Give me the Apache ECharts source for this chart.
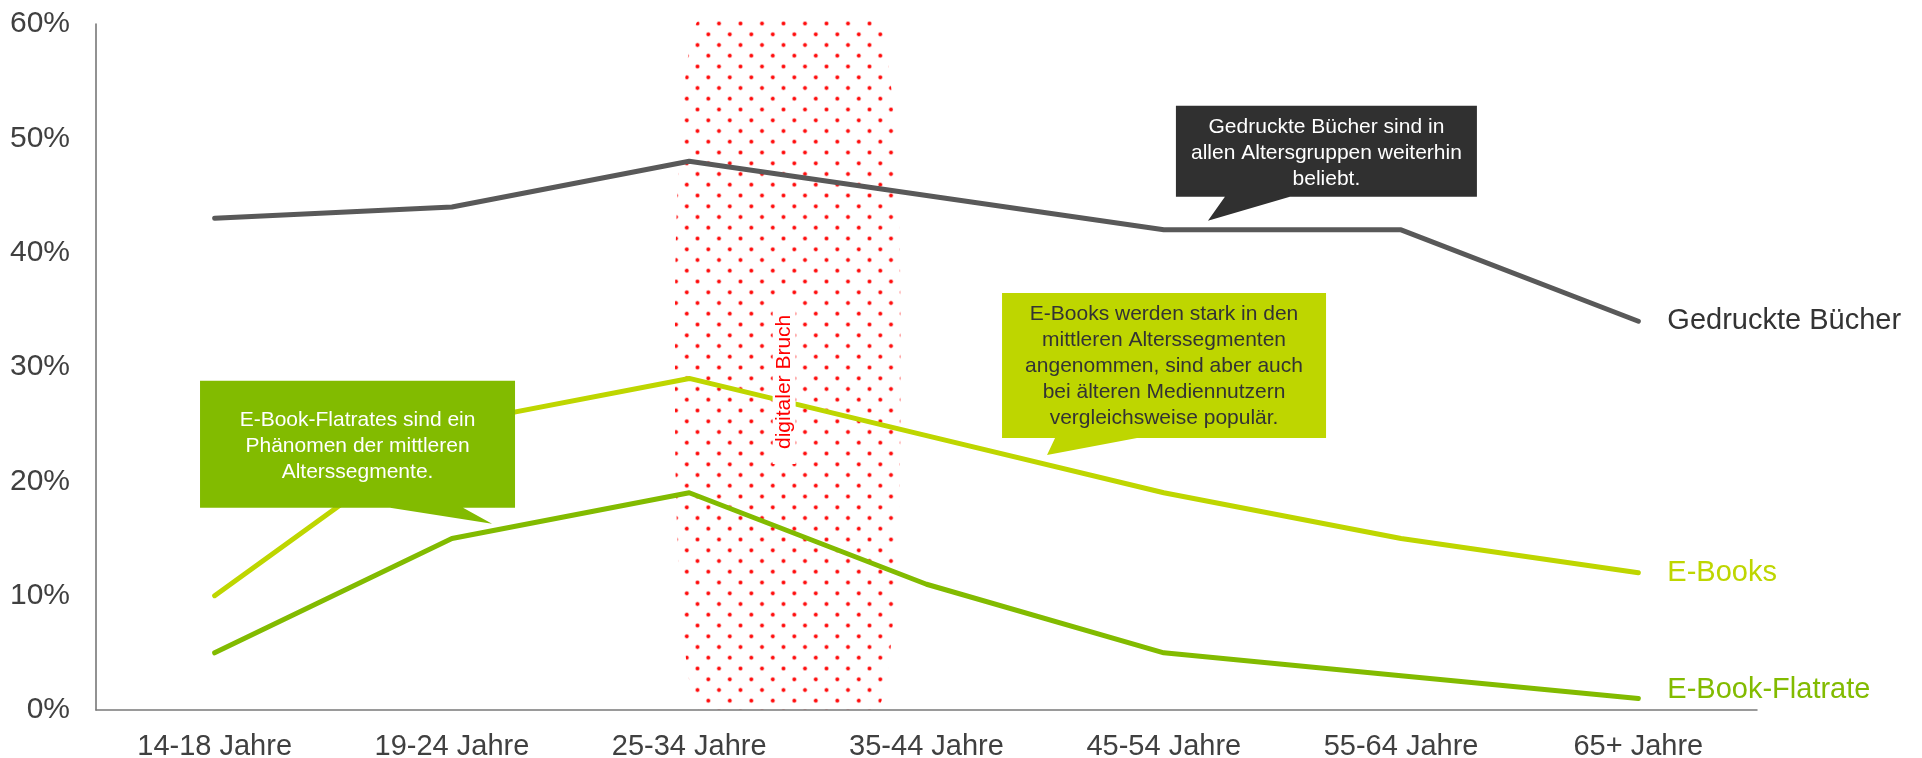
<!DOCTYPE html>
<html lang="de">
<head>
<meta charset="utf-8">
<title>Buchnutzung nach Altersgruppen</title>
<script src="https://cdn.jsdelivr.net/npm/echarts@6/dist/echarts.min.js"></script>
<style>
  html, body { margin: 0; padding: 0; background: #ffffff; }
  #chart { width: 1922px; height: 758px; }
</style>
</head>
<body>
<div id="chart"></div>
<script>
// Age groups on the x axis
const ageGroups = ['14-18 Jahre', '19-24 Jahre', '25-34 Jahre', '35-44 Jahre', '45-54 Jahre', '55-64 Jahre', '65+ Jahre'];

// Share of users per age group, in percent
const printedBooks  = [43, 44, 48, 45, 42, 42, 34];
const eBooks        = [10, 25, 29, 24, 19, 15, 12];
const eBookFlatrate = [5, 15, 19, 11, 5, 3, 1];

const seriesNames = ['Gedruckte Bücher', 'E-Books', 'E-Book-Flatrate'];

// y axis range and tick step, in percent
const yRange = [0, 60];
const yStep = 10;

// Span of the "digital break" band, in category units (0 = first age group)
const digitalBreakSpan = [1.94, 2.89];

const FONT = '"Liberation Sans", Arial, Helvetica, sans-serif';
const C_PRINT = '#595959';
const C_EBOOK = '#bed600';
const C_FLAT = '#82bb00';
const C_TEXT = '#404040';

const chart = echarts.init(document.getElementById('chart'), null, { renderer: 'canvas' });

function lineSeries(name, data, color, labelColor, labelOffset) {
  return {
    name: name,
    type: 'line',
    data: data,
    symbol: 'none',
    showSymbol: false,
    silent: true,
    z: 2,
    lineStyle: { width: 5, color: color, cap: 'round', join: 'round' },
    itemStyle: { color: color },
    endLabel: {
      show: true,
      formatter: '{a}',
      distance: 29,
      offset: labelOffset,
      color: labelColor,
      fontSize: 29,
      fontFamily: FONT
    }
  };
}

chart.setOption({
  animation: false,
  backgroundColor: '#ffffff',
  textStyle: { fontFamily: FONT },
  grid: { left: 96, right: 165, top: 24, bottom: 48, containLabel: false, outerBoundsMode: 'none' },
  xAxis: {
    type: 'category',
    data: ageGroups,
    boundaryGap: true,
    axisLine: { show: true, lineStyle: { color: '#7a7a7a', width: 1.5 } },
    axisTick: { show: false },
    splitLine: { show: false },
    axisLabel: { color: C_TEXT, fontSize: 29, fontFamily: FONT, margin: 22, interval: 0 }
  },
  yAxis: {
    type: 'value',
    min: yRange[0],
    max: yRange[1],
    interval: yStep,
    axisLine: { show: true, lineStyle: { color: '#6e6e6e', width: 1.5 } },
    axisTick: { show: false },
    splitLine: { show: false },
    axisLabel: { color: C_TEXT, fontSize: 30, fontFamily: FONT, margin: 26, padding: [5, 0, 0, 0], formatter: '{value}%' }
  },
  series: [
    lineSeries(seriesNames[0], printedBooks, C_PRINT, '#333333', [0, 0]),
    lineSeries(seriesNames[1], eBooks, C_EBOOK, C_EBOOK, [0, 0]),
    lineSeries(seriesNames[2], eBookFlatrate, C_FLAT, C_FLAT, [0, -9])
  ]
});

// Pixel helpers based on the chart's own axes
const x0 = chart.convertToPixel({ xAxisIndex: 0 }, ageGroups[0]);
const x1 = chart.convertToPixel({ xAxisIndex: 0 }, ageGroups[1]);
const stepX = x1 - x0;
const px = i => x0 + i * stepX;
const py = v => chart.convertToPixel({ yAxisIndex: 0 }, v);

// Tile of staggered red dots used to fill the band
function dotTile() {
  const size = 43;
  const r = 3;
  const c = document.createElement('canvas');
  c.width = size; c.height = size;
  const g = c.getContext('2d');
  const dots = [[9.5, 2], [31, 2], [20.3, 12.7], [41.8, 12.7], [9.5, 23.5], [31, 23.5], [20.3, 34.3], [41.8, 34.3]];
  dots.forEach(([x, y]) => {
    [-size, 0, size].forEach(dx => {
      [-size, 0, size].forEach(dy => {
        const cx = x + dx, cy = y + dy;
        const grd = g.createRadialGradient(cx, cy, 0, cx, cy, r);
        grd.addColorStop(0, 'rgba(255,0,0,1)');
        grd.addColorStop(0.45, 'rgba(255,20,20,0.95)');
        grd.addColorStop(0.7, 'rgba(255,80,80,0.45)');
        grd.addColorStop(1, 'rgba(255,130,130,0)');
        g.fillStyle = grd;
        g.beginPath();
        g.arc(cx, cy, r, 0, Math.PI * 2);
        g.fill();
      });
    });
  });
  return c;
}

// Outline of the band: straight top/bottom with tall elliptical corners
function bandOutline(xL, xR, yT, yB, rx, ry) {
  ry = Math.min(ry, (yB - yT) / 2);
  const pts = [];
  const seg = 24;
  const corner = (cx, cy, a0, a1) => {
    for (let k = 0; k <= seg; k++) {
      const a = a0 + (a1 - a0) * k / seg;
      pts.push([cx + rx * Math.cos(a), cy + ry * Math.sin(a)]);
    }
  };
  corner(xR - rx, yT + ry, -Math.PI / 2, 0);
  corner(xR - rx, yB - ry, 0, Math.PI / 2);
  corner(xL + rx, yB - ry, Math.PI / 2, Math.PI);
  corner(xL + rx, yT + ry, Math.PI, Math.PI * 1.5);
  return pts;
}

// Speech-bubble annotations: tip anchored at a chart position, box given relative to the tip
const callouts = [
  {
    at: [4.186, 42.8], box: [-32, 269, -115, -24], base: [17, 82], dy: 2,
    fill: '#303030', color: '#ffffff',
    text: 'Gedruckte Bücher sind in\nallen Altersgruppen weiterhin\nbeliebt.'
  },
  {
    at: [3.508, 22.3], box: [-45, 279, -162, -17], base: [8, 90], dy: 1,
    fill: C_EBOOK, color: '#333333',
    text: 'E-Books werden stark in den\nmittleren Alterssegmenten\nangenommen, sind aber auch\nbei älteren Mediennutzern\nvergleichsweise populär.'
  },
  {
    at: [1.169, 16.3], box: [-292, 23, -143, -16], base: [-102, -29], dy: 2,
    fill: C_FLAT, color: '#ffffff',
    text: 'E-Book-Flatrates sind ein\nPhänomen der mittleren\nAlterssegmente.'
  }
];

function calloutElements(c) {
  const tx = px(c.at[0]), ty = py(c.at[1]);
  const L = tx + c.box[0], R = tx + c.box[1], T = ty + c.box[2], B = ty + c.box[3];
  const pts = [[L, T], [R, T], [R, B], [tx + c.base[1], B], [tx, ty], [tx + c.base[0], B], [L, B]];
  return [
    { type: 'polygon', silent: true, z: 10, shape: { points: pts }, style: { fill: c.fill } },
    {
      type: 'text', silent: true, z: 11,
      x: (L + R) / 2, y: (T + B) / 2 + c.dy,
      style: {
        text: c.text, fill: c.color, font: '21px ' + FONT,
        align: 'center', verticalAlign: 'middle', lineHeight: 26
      }
    }
  ];
}

const bandPts = bandOutline(px(digitalBreakSpan[0]), px(digitalBreakSpan[1]), py(yRange[1]) - 4, py(yRange[0]), 25, 300);

const graphics = [
  {
    type: 'polygon', silent: true, z: 0,
    shape: { points: bandPts },
    style: { fill: { image: dotTile(), repeat: 'repeat' } }
  },
  {
    type: 'text', silent: true, z: 10,
    x: px(2.40), y: py(28.7), rotation: Math.PI / 2,
    style: {
      text: 'digitaler Bruch', fill: '#ff0000', font: '21px ' + FONT,
      align: 'center', verticalAlign: 'middle',
      backgroundColor: '#ffffff', padding: [1, 15]
    }
  }
];
callouts.forEach(c => { graphics.push(...calloutElements(c)); });

chart.setOption({ graphic: graphics });
</script>
</body>
</html>
